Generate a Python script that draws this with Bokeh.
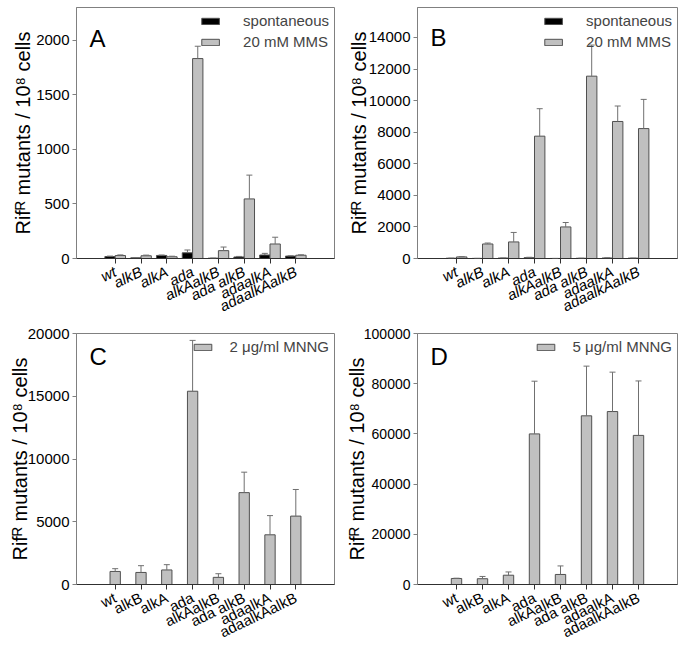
import math
from bokeh.plotting import figure
from bokeh.models import (ColumnDataSource, FactorRange, Range1d, Whisker, TeeHead, Label,
                          Legend, LegendItem, FixedTicker, BasicTickFormatter)
from bokeh.layouts import column, row
from bokeh.transform import dodge
from bokeh.embed import file_html
from bokeh.resources import INLINE

# ---------------- data ----------------
strains = ["wt", "alkB", "alkA", "ada", "alkAalkB", "ada alkB", "adaalkA", "adaalkAalkB"]

spont = [18, 6, 28, 52, 3, 14, 32, 22]
spont_err = [4, 2, 4, 26, 1, 5, 15, 3]

a_mms = [27, 25, 16, 1832, 72, 546, 133, 30]
a_mms_err = [6, 6, 5, 113, 33, 218, 62, 4]

b_mms = [100, 920, 1050, 7750, 2000, 11550, 8680, 8230]
b_mms_err = [20, 60, 600, 1740, 280, 1970, 980, 1850]

c_mnng = [1040, 960, 1160, 15400, 570, 7320, 3960, 5450]
c_mnng_err = [220, 540, 420, 4050, 290, 1630, 1530, 2120]

d_mnng = [2400, 2300, 3700, 60000, 4000, 67200, 68900, 59400]
d_mnng_err = [100, 900, 1300, 21000, 3400, 19800, 15700, 21700]

a_ticks = [0, 500, 1000, 1500, 2000]
b_ticks = [0, 2000, 4000, 6000, 8000, 10000, 12000, 14000]
c_ticks = [0, 5000, 10000, 15000, 20000]
d_ticks = [0, 20000, 40000, 60000, 80000, 100000]

y_title = "Rif\u1d3f mutants / 10\u2078 cells"

# ---------------- style ----------------
FONT = "Liberation Sans"
GREY = "#c0c0c0"
EDGE = "#505050"
ERR = "#707070"
FRAME = "#808080"


def base_fig(width, height, ymax, ticks, bl, br, bt, bb, italic, letter, letter_top, tick_fs,
             ylab_standoff):
    p = figure(width=width, height=height,
               x_range=FactorRange(*strains, range_padding=1, range_padding_units="absolute"),
               y_range=Range1d(0, ymax), output_backend="svg", toolbar_location=None,
               min_border_left=bl, min_border_right=br, min_border_top=bt, min_border_bottom=bb)
    p.grid.visible = False
    p.outline_line_color = FRAME

    p.yaxis.ticker = FixedTicker(ticks=ticks)
    p.yaxis.formatter = BasicTickFormatter(use_scientific=False)
    p.yaxis.minor_tick_line_color = None
    p.yaxis.major_tick_in = 0
    p.yaxis.major_tick_out = 4
    p.yaxis.axis_line_color = FRAME
    p.yaxis.major_tick_line_color = FRAME
    p.yaxis.major_label_text_font = FONT
    p.yaxis.major_label_text_font_size = tick_fs
    p.yaxis.major_label_text_color = "black"
    p.yaxis.major_label_standoff = 3
    p.yaxis.axis_label = y_title
    p.yaxis.axis_label_text_font = FONT
    p.yaxis.axis_label_text_font_size = "20px"
    p.yaxis.axis_label_text_font_style = "normal"
    p.yaxis.axis_label_text_color = "black"
    p.yaxis.axis_label_standoff = ylab_standoff

    p.xaxis.major_tick_in = 0
    p.xaxis.major_tick_out = 5
    p.xaxis.axis_line_color = "#303030"
    p.xaxis.major_tick_line_color = "#303030"
    p.xaxis.major_label_orientation = 0.45
    p.xaxis.major_label_text_font = FONT
    p.xaxis.major_label_text_font_size = "15px"
    p.xaxis.major_label_text_color = "black"
    p.xaxis.major_label_standoff = 7
    if italic:
        p.xaxis.major_label_text_font_style = "italic"

    fh = height - bt - bb
    p.add_layout(Label(x=13, y=fh - letter_top, x_units="screen", y_units="screen", text=letter,
                       text_font=FONT, text_font_size="24px", text_baseline="alphabetic",
                       text_color="black"))
    return p


def whisk(p, src, col, hi, off):
    w = Whisker(source=src, base=dodge("strain", off, range=p.x_range), lower=col, upper=hi,
                line_color=ERR, line_width=1,
                upper_head=TeeHead(size=6, line_color=ERR, line_width=1), lower_head=None,
                level="overlay")
    p.add_layout(w)


def two_series(p, treated, treated_err, label2, standoff):
    src = ColumnDataSource(dict(
        strain=strains, spont=spont, spont_hi=[v + e for v, e in zip(spont, spont_err)],
        trt=treated, trt_hi=[v + e for v, e in zip(treated, treated_err)]))
    r1 = p.vbar(x=dodge("strain", -0.2, range=p.x_range), top="spont", width=0.4, source=src,
                fill_color="black", line_color=EDGE, line_width=1)
    r2 = p.vbar(x=dodge("strain", 0.2, range=p.x_range), top="trt", width=0.4, source=src,
                fill_color=GREY, line_color=EDGE, line_width=1)
    whisk(p, src, "spont", "spont_hi", -0.2)
    whisk(p, src, "trt", "trt_hi", 0.2)
    leg = Legend(items=[LegendItem(label="spontaneous", renderers=[r1]),
                        LegendItem(label=label2, renderers=[r2])],
                 location="top_right", glyph_width=22, glyph_height=8, label_standoff=standoff,
                 spacing=4, padding=0, margin=5, border_line_color=None,
                 background_fill_alpha=0, label_text_font=FONT, label_text_font_size="15px",
                 label_height=16)
    p.add_layout(leg)


def one_series(p, vals, errs, label):
    src = ColumnDataSource(dict(strain=strains, val=vals,
                                hi=[v + e for v, e in zip(vals, errs)]))
    r = p.vbar(x="strain", top="val", width=0.4, source=src, fill_color=GREY,
               line_color=EDGE, line_width=1)
    whisk(p, src, "val", "hi", 0)
    leg = Legend(items=[LegendItem(label=label, renderers=[r])], location="top_right",
                 glyph_width=22, glyph_height=8, label_standoff=16, spacing=4, padding=0,
                 margin=5, border_line_color=None, background_fill_alpha=0,
                 label_text_font=FONT, label_text_font_size="15px", label_height=16)
    p.add_layout(leg)


TOP_H, BOT_H = 325, 326

pa = base_fig(340, TOP_H, 2300, a_ticks, 76, 6, 7, 62, True, "A", 36, "15px", -1)
two_series(pa, a_mms, a_mms_err, "20 mM MMS", 22)

pb = base_fig(343, TOP_H, 15900, b_ticks, 77, 6, 7, 62, True, "B", 35, "15px", -4)
two_series(pb, b_mms, b_mms_err, "20 mM MMS", 22)

pc = base_fig(340, BOT_H, 20000, c_ticks, 76, 6, 8, 62, False, "C", 28, "15px", -6)
one_series(pc, c_mnng, c_mnng_err, "2 \u03bcg/ml MNNG")

pd = base_fig(343, BOT_H, 100000, d_ticks, 77, 6, 8, 62, False, "D", 28, "14px", -7)
one_series(pd, d_mnng, d_mnng_err, "5 \u03bcg/ml MNNG")

layout = column(row(pa, pb), row(pc, pd))

with open("out.html", "w") as f:
    f.write(file_html(layout, INLINE))
